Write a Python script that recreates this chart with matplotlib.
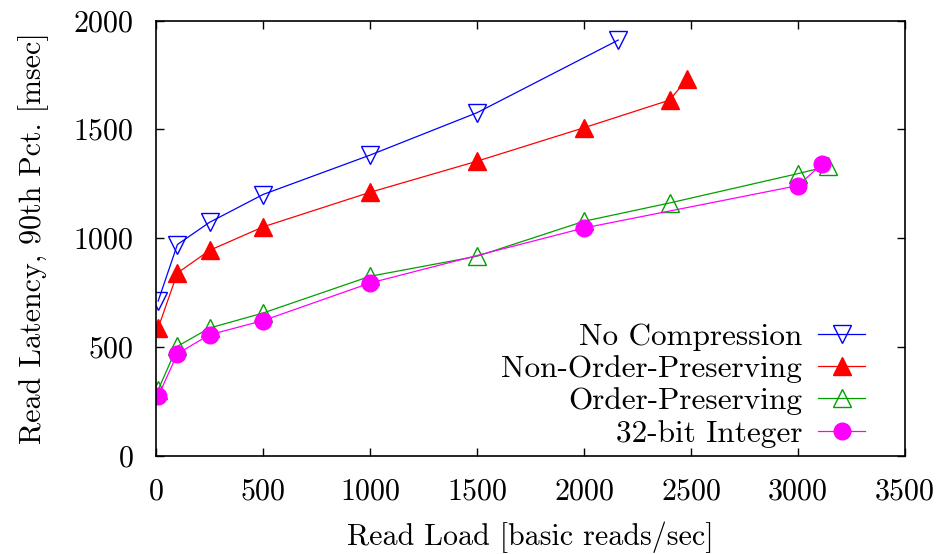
import matplotlib
matplotlib.use("Agg")
import matplotlib.pyplot as plt

plt.rcParams['font.family'] = ['cmr10', 'DejaVu Serif']
plt.rcParams['axes.formatter.use_mathtext'] = True
plt.rcParams['mathtext.fontset'] = 'cm'

# Data
x_nocomp = [10, 100, 250, 500, 1000, 1500, 2160]
y_nocomp = [710, 970, 1072, 1200, 1381, 1576, 1910]

x_nonord = [10, 100, 250, 500, 1000, 1500, 2000, 2400, 2480]
y_nonord = [586, 839, 943, 1051, 1210, 1353, 1507, 1634, 1729]

x_ord = [10, 100, 250, 500, 1000, 1500, 2000, 2400, 3000, 3140]
y_ord = [302, 502, 586, 655, 824, 916, 1077, 1161, 1296, 1330]

x_int = [10, 100, 250, 500, 1000, 2000, 3000, 3110]
y_int = [272, 468, 555, 620, 793, 1046, 1241, 1338]

labels = ["No Compression", "Non-Order-Preserving", "Order-Preserving", "32-bit Integer"]
xticks = [0, 500, 1000, 1500, 2000, 2500, 3000, 3500]
yticks = [0, 500, 1000, 1500, 2000]

fs = 21.6
lfs = 22.5
fig = plt.figure(figsize=(9.44, 5.54), dpi=100)
ax = fig.add_axes([156/944, 1-455.5/554, (905-156)/944, (455.5-20.5)/554])

lw = 0.9
ax.plot(x_nocomp, y_nocomp, color='#0000ff', lw=lw, marker='v', ms=13,
        mfc='none', mec='#0000ff', mew=1.0, label=labels[0])
ax.plot(x_nonord, y_nonord, color='#ff0000', lw=lw, marker='^', ms=13,
        mfc='#ff0000', mec='#ff0000', mew=1.0, label=labels[1])
ax.plot(x_ord, y_ord, color='#00a000', lw=lw, marker='^', ms=13,
        mfc='none', mec='#00a000', mew=1.0, label=labels[2])
ax.plot(x_int, y_int, color='#ff00ff', lw=lw, marker='o', ms=12,
        mfc='#ff00ff', mec='#ff00ff', mew=1.0, label=labels[3])

ax.set_xlim(0, 3500)
ax.set_ylim(0, 2000)
ax.set_xticks(xticks)
ax.set_yticks(yticks)
ax.set_xticklabels([str(v) for v in xticks])
ax.set_yticklabels([str(v) for v in yticks])
ax.tick_params(direction='in', length=6, width=1.0, top=True, right=True,
               labelsize=fs, pad=16)
ax.tick_params(axis='y', pad=16)
for s in ax.spines.values():
    s.set_linewidth(1.2)

ax.set_xlabel("Read Load [basic reads/sec]", fontsize=fs, labelpad=12)
ax.set_ylabel("Read Latency, 90th Pct. [msec]", fontsize=fs, labelpad=18)

leg = ax.legend(loc='lower right', markerfirst=False, frameon=False,
                fontsize=lfs, handlelength=1.507, handletextpad=0.51,
                labelspacing=0.14, borderaxespad=0.3,
                bbox_to_anchor=(0.976, -0.032))
for col in leg._legend_box.get_children()[1].get_children():
    col.align = 'right'

fig.savefig("out.png", dpi=100)
